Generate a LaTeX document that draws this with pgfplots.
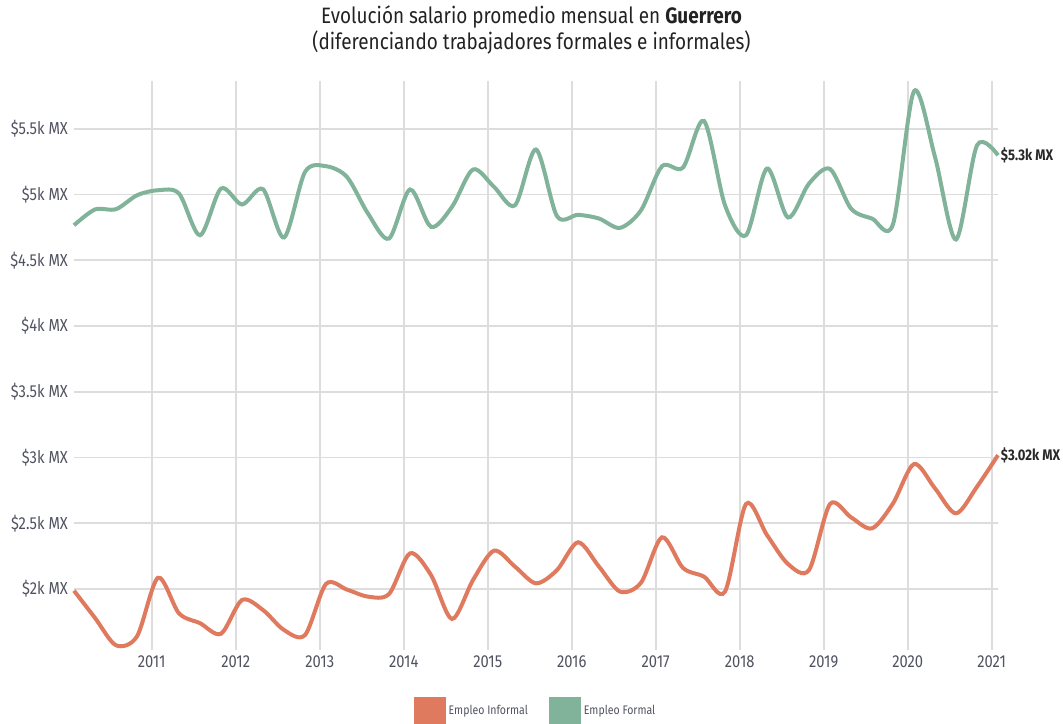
\documentclass[border=0pt]{standalone}
\usepackage{fontspec}
\setmainfont{Fira Sans}[FakeStretch=0.85]
\usepackage{pgfplots}
\pgfplotsset{compat=1.18}
\definecolor{infc}{RGB}{224,122,95}
\definecolor{forc}{RGB}{129,178,154}
\definecolor{gridc}{RGB}{221,221,221}
\definecolor{tickc}{RGB}{80,82,96}
\definecolor{labc}{RGB}{40,40,40}

\pgfplotstableread{
x y
2010.075 1987
2010.325 1780
2010.575 1572
2010.825 1640
2011.075 2085
2011.325 1815
2011.575 1740
2011.825 1660
2012.075 1916
2012.325 1840
2012.575 1688
2012.825 1650
2013.075 2038
2013.325 1995
2013.575 1942
2013.825 1962
2014.075 2271
2014.325 2106
2014.575 1772
2014.825 2068
2015.075 2291
2015.325 2170
2015.575 2043
2015.825 2144
2016.075 2355
2016.325 2170
2016.575 1980
2016.825 2048
2017.075 2393
2017.325 2160
2017.575 2094
2017.825 1980
2018.075 2646
2018.325 2410
2018.575 2190
2018.825 2144
2019.075 2646
2019.325 2545
2019.575 2461
2019.825 2651
2020.075 2950
2020.325 2765
2020.575 2575
2020.825 2778
2021.075 3018
}\informal

\pgfplotstableread{
x y
2010.075 4766
2010.325 4886
2010.575 4888
2010.825 4994
2011.075 5032
2011.325 5007
2011.575 4690
2011.825 5045
2012.075 4924
2012.325 5040
2012.575 4673
2012.825 5171
2013.075 5215
2013.325 5133
2013.575 4855
2013.825 4665
2014.075 5038
2014.325 4754
2014.575 4906
2014.825 5190
2015.075 5058
2015.325 4918
2015.575 5342
2015.825 4835
2016.075 4845
2016.325 4817
2016.575 4746
2016.825 4880
2017.075 5215
2017.325 5205
2017.575 5559
2017.825 4918
2018.075 4690
2018.325 5197
2018.575 4825
2018.825 5083
2019.075 5194
2019.325 4893
2019.575 4817
2019.825 4774
2020.075 5785
2020.325 5285
2020.575 4658
2020.825 5374
2021.075 5298
}\formal

\begin{document}
\begin{tikzpicture}[x=1pt,y=1pt]
\useasboundingbox (0,0) rectangle (797.25,543);
\node[align=center, font=\fontsize{16.7}{19.5}\selectfont, text=labc!85!black] at (398.6,520.5)
  {Evolución salario promedio mensual en \textbf{Guerrero}\\(diferenciando trabajadores formales e informales)};
\begin{axis}[
  at={(55.5pt,55.5pt)}, anchor=south west,
  scale only axis, width=693pt, height=426.75pt,
  xmin=2010.075, xmax=2021.075, ymin=1536, ymax=5863,
  axis line style={draw=none}, tick style={draw=none},
  grid=major, major grid style={gridc, line width=1.2pt},
  xtick={2011,2012,2013,2014,2015,2016,2017,2018,2019,2020,2021},
  xticklabels={2011,2012,2013,2014,2015,2016,2017,2018,2019,2020,2021},
  ytick={2000,2500,3000,3500,4000,4500,5000,5500},
  yticklabels={\$2k MX,\$2.5k MX,\$3k MX,\$3.5k MX,\$4k MX,\$4.5k MX,\$5k MX,\$5.5k MX},
  ticklabel style={font=\fontsize{13}{15}\selectfont, text=tickc},
  xticklabel style={yshift=-1pt},
  yticklabel style={xshift=-1pt},
  clip=false,
  legend style={at={(0.5,-0.078)}, anchor=north, draw=none, fill=none,
    legend columns=2, font=\fontsize{9.3}{11}\selectfont, text=tickc,
    /tikz/every even column/.append style={column sep=14pt}},
  legend image code/.code={\fill[#1, draw=none] (0pt,-10.5pt) rectangle (24pt,10.5pt);},
]
\addplot[infc, line width=3pt, smooth, tension=0.5] table[x=x,y=y] {\informal};
\addlegendentry{Empleo Informal}
\addplot[forc, line width=3pt, smooth, tension=0.5] table[x=x,y=y] {\formal};
\addlegendentry{Empleo Formal}
\node[anchor=west, font=\bfseries\fontsize{11.5}{13}\selectfont, text=labc, inner sep=2pt] at (axis cs:2021.075,5298) {\$5.3k MX};
\node[anchor=west, font=\bfseries\fontsize{11.5}{13}\selectfont, text=labc, inner sep=2pt] at (axis cs:2021.075,3018) {\$3.02k MX};
\end{axis}
\end{tikzpicture}
\end{document}
